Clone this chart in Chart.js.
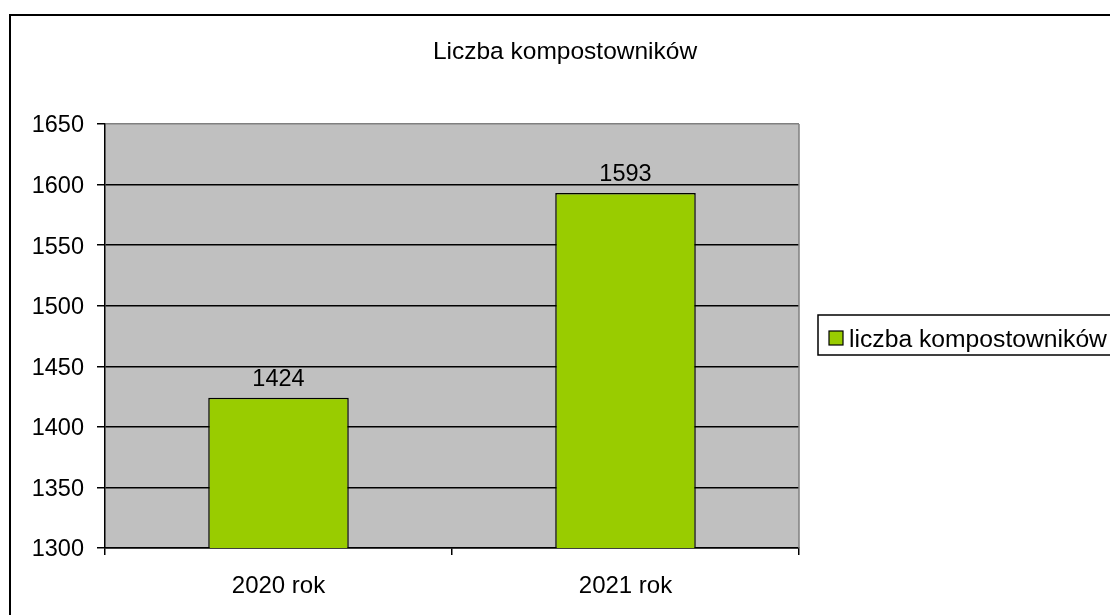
<!DOCTYPE html>
<html>
<head>
<meta charset="utf-8">
<script src="https://cdn.jsdelivr.net/npm/chart.js@4"></script>
<style>
  html, body { margin: 0; padding: 0; background: #ffffff; }
  #wrap { width: 1110px; height: 615px; position: relative; }
</style>
</head>
<body>
<div id="wrap"><canvas id="c" width="1110" height="615"></canvas></div>
<script>
const chartTitle = "Liczba kompostowników";
const categories = ["2020 rok", "2021 rok"];
const seriesName = "liczba kompostowników";
const seriesValues = [1424, 1593];
const yTicks = [1300, 1350, 1400, 1450, 1500, 1550, 1600, 1650];

const FONT = "'Liberation Sans', Arial, sans-serif";
const BAR_COLOR = "#99CC00";

const decorPlugin = {
  id: "decor",
  beforeDraw(chart) {
    const ctx = chart.ctx;
    const a = chart.chartArea;
    ctx.save();
    ctx.fillStyle = "#ffffff";
    ctx.fillRect(0, 0, chart.width, chart.height);
    ctx.strokeStyle = "#000000";
    ctx.lineWidth = 2;
    ctx.strokeRect(10, 15, chart.width + 20, chart.height + 20);
    ctx.fillStyle = "#C0C0C0";
    ctx.fillRect(a.left, a.top, a.right - a.left, a.bottom - a.top);
    ctx.restore();
  },
  afterDraw(chart) {
    const ctx = chart.ctx;
    const a = chart.chartArea;
    ctx.save();
    ctx.strokeStyle = "#808080";
    ctx.lineWidth = 1.5;
    ctx.beginPath();
    ctx.moveTo(a.right, a.top);
    ctx.lineTo(a.right, a.bottom);
    ctx.stroke();
    ctx.fillStyle = "#000000";
    ctx.font = "24.5px " + FONT;
    ctx.textAlign = "center";
    ctx.textBaseline = "alphabetic";
    ctx.fillText(chartTitle, 565, 59);
    ctx.lineWidth = 1.5;
    ctx.strokeStyle = "#000000";
    ctx.fillStyle = "#ffffff";
    ctx.fillRect(818, 315, 310, 40);
    ctx.strokeRect(818, 315, 310, 40);
    const ds = chart.data.datasets[0];
    ctx.fillStyle = ds.backgroundColor;
    ctx.fillRect(829, 331, 14, 14);
    ctx.lineWidth = 1.2;
    ctx.strokeRect(829, 331, 14, 14);
    ctx.fillStyle = "#000000";
    ctx.font = "24.7px " + FONT;
    ctx.textAlign = "left";
    ctx.textBaseline = "alphabetic";
    ctx.fillText(ds.label, 849, 347);
    ctx.restore();
  },
  afterDatasetsDraw(chart) {
    const ctx = chart.ctx;
    const meta = chart.getDatasetMeta(0);
    const ds = chart.data.datasets[0];
    ctx.save();
    ctx.fillStyle = "#000000";
    ctx.font = "23.5px " + FONT;
    ctx.textAlign = "center";
    ctx.textBaseline = "alphabetic";
    meta.data.forEach((bar, i) => {
      ctx.fillText(String(ds.data[i]), bar.x, bar.y - 12);
    });
    ctx.restore();
  }
};

new Chart(document.getElementById("c"), {
  type: "bar",
  data: {
    labels: categories,
    datasets: [{
      label: seriesName,
      data: seriesValues,
      backgroundColor: BAR_COLOR,
      borderColor: "#000000",
      borderWidth: 1.5,
      barPercentage: 1,
      categoryPercentage: 0.405
    }]
  },
  options: {
    responsive: false,
    animation: false,
    events: [],
    layout: { padding: { top: 124, left: 0, right: 311, bottom: 0 } },
    plugins: {
      legend: { display: false },
      title: { display: false },
      tooltip: { enabled: false }
    },
    scales: {
      x: {
        grid: {
          offset: true,
          drawOnChartArea: false,
          drawTicks: true,
          tickLength: 7,
          color: "#000000",
          lineWidth: 1.5
        },
        border: { display: true, color: "#000000", width: 1.5 },
        ticks: {
          color: "#000000",
          font: { family: FONT, size: 24 },
          padding: 17
        },
        afterFit(scale) { scale.height = 67; }
      },
      y: {
        min: 1300,
        max: 1650,
        afterBuildTicks(scale) { scale.ticks = yTicks.map(v => ({ value: v })); },
        grid: {
          color: (c) => (c.tick && c.tick.value === 1650 ? "#808080" : "#000000"),
          lineWidth: 1.5,
          tickLength: 8,
          tickColor: "#000000"
        },
        border: { display: true, color: "#000000", width: 1.5 },
        ticks: {
          color: "#000000",
          font: { family: FONT, size: 23.5 },
          padding: 13,
          labelOffset: 2,
          callback: (v) => String(v)
        },
        afterFit(scale) { scale.width = 105; }
      }
    }
  },
  plugins: [decorPlugin]
});
</script>
</body>
</html>
